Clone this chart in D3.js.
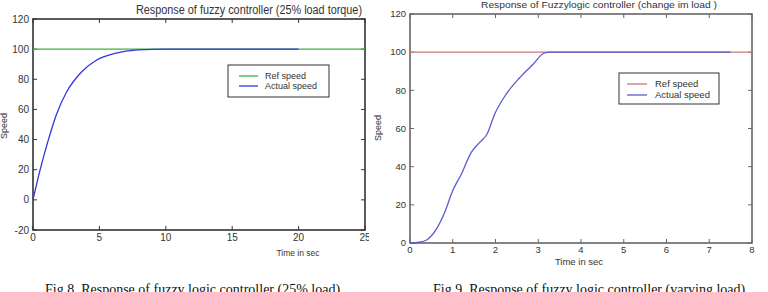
<!DOCTYPE html>
<html>
<head>
<meta charset="utf-8">
<script src="https://cdn.jsdelivr.net/npm/d3@7"></script>
<style>
  body { margin: 0; background: #fff; }
  svg { display: block; }
  text { font-family: "Liberation Sans", Arial, sans-serif; fill: #333; }
  .caption { font-family: "Liberation Serif", "Times New Roman", serif; fill: #111; }
</style>
</head>
<body>
<div id="vis"></div>
<script>
// Fig 8 - 25% load torque
const leftTime = [0, 0.53, 1.15, 1.78, 2.54, 3.67, 4.8, 6.17, 7.9, 10, 15, 20];
const leftSpeed = [0, 19.7, 39.6, 57, 71.7, 85, 92.8, 97.2, 99.5, 100, 100, 100];
const leftRefTime = [0, 25];
const leftRefSpeed = [100, 100];
const leftXTicks = [0, 5, 10, 15, 20, 25];
const leftYTicks = [-20, 0, 20, 40, 60, 80, 100, 120];

// Fig 9 - varying load
const rightTime = [0, 0.22, 0.39, 0.62, 0.81, 1.0, 1.2, 1.43, 1.63, 1.8, 1.98, 2.25, 2.57, 2.88, 3.12, 3.28, 7.5];
const rightSpeed = [0, 0.4, 1.6, 7.4, 16, 27.5, 36, 47.4, 52.7, 57, 67.5, 78, 86.7, 93.7, 99.3, 100, 100];
const rightRefTime = [0, 8];
const rightRefSpeed = [100, 100];
const rightXTicks = [0, 1, 2, 3, 4, 5, 6, 7, 8];
const rightYTicks = [0, 20, 40, 60, 80, 100, 120];

const legendLabels = ['Ref speed', 'Actual speed'];

const svg = d3.select('#vis').append('svg')
    .attr('width', 768)
    .attr('height', 292);

function drawPanel(cfg) {
    const x = d3.scaleLinear().domain(cfg.xDomain).range([cfg.left, cfg.right]);
    const y = d3.scaleLinear().domain(cfg.yDomain).range([cfg.bottom, cfg.top]);

    const g = svg.append('g').attr('clip-path', `url(#${cfg.id})`);
    svg.append('clipPath').attr('id', cfg.id)
        .append('rect').attr('x', cfg.clip[0]).attr('y', 0)
        .attr('width', cfg.clip[1] - cfg.clip[0]).attr('height', 292);

    // box
    g.append('rect')
        .attr('x', cfg.left).attr('y', cfg.top)
        .attr('width', cfg.right - cfg.left).attr('height', cfg.bottom - cfg.top)
        .attr('fill', 'none').attr('stroke', cfg.boxColor).attr('stroke-width', 1.6);

    // ticks, inside on all four sides
    const tk = 4;
    g.append('g').selectAll('path').data(cfg.xTicks).join('path')
        .attr('d', d => `M${x(d)},${cfg.bottom}v${-tk}M${x(d)},${cfg.top}v${tk}`)
        .attr('stroke', cfg.boxColor);
    g.append('g').selectAll('path').data(cfg.yTicks).join('path')
        .attr('d', d => `M${cfg.left},${y(d)}h${tk}M${cfg.right},${y(d)}h${-tk}`)
        .attr('stroke', cfg.boxColor);

    g.append('g').selectAll('text').data(cfg.xTicks).join('text')
        .attr('x', d => x(d)).attr('y', cfg.bottom + cfg.xLabelDy)
        .attr('text-anchor', 'middle').attr('font-size', cfg.tickSize)
        .text(d => d);
    g.append('g').selectAll('text').data(cfg.yTicks).join('text')
        .attr('x', cfg.left - 4).attr('y', d => y(d) + cfg.tickSize * 0.35)
        .attr('text-anchor', 'end').attr('font-size', cfg.tickSize)
        .text(d => d);

    const line = d3.line()
        .x(d => x(d[0])).y(d => y(d[1]))
        .curve(d3.curveMonotoneX);

    g.append('path')
        .datum(d3.zip(cfg.refTime, cfg.refSpeed))
        .attr('d', line).attr('fill', 'none')
        .attr('stroke', cfg.refColor).attr('stroke-width', 1.2);
    g.append('path')
        .datum(d3.zip(cfg.time, cfg.speed))
        .attr('d', line).attr('fill', 'none')
        .attr('stroke', cfg.actColor).attr('stroke-width', 1.3);

    // title and axis labels
    svg.append('text')
        .attr('x', cfg.title.x).attr('y', cfg.title.y)
        .attr('text-anchor', 'middle').attr('font-size', cfg.title.size)
        .attr('textLength', cfg.title.w).attr('lengthAdjust', 'spacingAndGlyphs')
        .text(cfg.title.text);
    svg.append('text')
        .attr('x', cfg.xLabel.x).attr('y', cfg.xLabel.y)
        .attr('text-anchor', 'middle').attr('font-size', cfg.xLabel.size)
        .text('Time in sec');
    svg.append('text')
        .attr('transform', `translate(${cfg.yLabel.x},${cfg.yLabel.y}) rotate(-90)`)
        .attr('text-anchor', 'middle').attr('font-size', 9)
        .text('Speed');

    // legend
    const lg = cfg.legend;
    const leg = svg.append('g');
    leg.append('rect')
        .attr('x', lg.x).attr('y', lg.y).attr('width', lg.w).attr('height', lg.h)
        .attr('fill', '#fff').attr('stroke', '#333').attr('stroke-width', 1);
    leg.selectAll('path').data(legendLabels).join('path')
        .attr('d', (d, i) => `M${lg.x + lg.l0},${lg.y + lg.r0 + i * lg.dr}h${lg.lw}`)
        .attr('stroke', (d, i) => i === 0 ? cfg.refColor : cfg.actColor)
        .attr('stroke-width', 1.3);
    leg.selectAll('text').data(legendLabels).join('text')
        .attr('x', lg.x + lg.t0)
        .attr('y', (d, i) => lg.y + lg.r0 + i * lg.dr + 3.3)
        .attr('font-size', lg.size)
        .text(d => d);

    svg.append('text').attr('class', 'caption')
        .attr('x', cfg.caption.x).attr('y', 294)
        .attr('font-size', 14)
        .text(cfg.caption.text);
}

drawPanel({
    id: 'clipL', clip: [0, 369],
    left: 33, right: 365, top: 19, bottom: 230,
    xDomain: [0, 25], yDomain: [-20, 120],
    xTicks: leftXTicks, yTicks: leftYTicks,
    time: leftTime, speed: leftSpeed,
    refTime: leftRefTime, refSpeed: leftRefSpeed,
    refColor: '#3cb43c', actColor: '#3535dd', boxColor: '#333',
    tickSize: 10, xLabelDy: 11,
    title: { text: 'Response of fuzzy controller (25% load torque)', x: 249, y: 14, size: 12, w: 226 },
    xLabel: { x: 298, y: 256, size: 8.5 },
    yLabel: { x: 7, y: 126 },
    legend: { x: 228, y: 65, w: 101, h: 32, l0: 11, lw: 19, t0: 37, r0: 11, dr: 10, size: 9 },
    caption: { x: 45, text: 'Fig 8. Response of fuzzy logic controller (25% load)' },
});

drawPanel({
    id: 'clipR', clip: [384, 768],
    left: 410, right: 752, top: 14, bottom: 243,
    xDomain: [0, 8], yDomain: [0, 120],
    xTicks: rightXTicks, yTicks: rightYTicks,
    time: rightTime, speed: rightSpeed,
    refTime: rightRefTime, refSpeed: rightRefSpeed,
    refColor: '#c87878', actColor: '#5a5ad2', boxColor: '#666',
    tickSize: 9.5, xLabelDy: 10,
    title: { text: 'Response of Fuzzylogic controller  (change im load )', x: 599, y: 8, size: 9.5, w: 236 },
    xLabel: { x: 579, y: 265, size: 9.5 },
    yLabel: { x: 381, y: 128 },
    legend: { x: 619, y: 73, w: 100, h: 31, l0: 8, lw: 20, t0: 36, r0: 11, dr: 11, size: 9.5 },
    caption: { x: 433, text: 'Fig 9. Response of fuzzy logic controller (varying load)' },
});
</script>
</body>
</html>
